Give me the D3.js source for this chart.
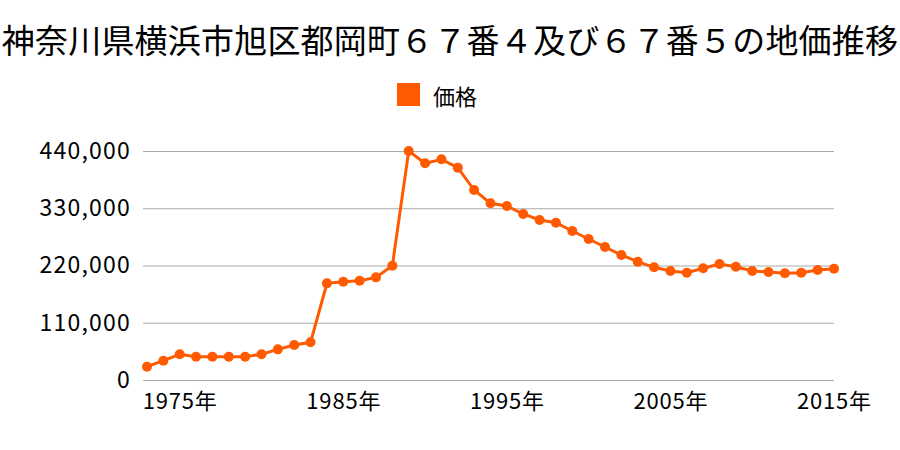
<!DOCTYPE html>
<html><head><meta charset="utf-8">
<script src="https://cdn.jsdelivr.net/npm/d3@7"></script>
<style>body{margin:0;background:#fff;} text{font-family:"Noto Sans CJK JP","Noto Sans",sans-serif;}</style>
</head><body>
<svg id="c" width="900" height="450"></svg>
<script>
const title = "神奈川県横浜市旭区都岡町６７番４及び６７番５の地価推移";
const seriesName = "価格";
const years = d3.range(1973, 2016);
const prices = [25600, 37100, 49400, 44800, 44800, 44800, 44800, 49400, 58900, 67200, 72400,
  185700, 188900, 190800, 197200, 219600, 440000, 416300, 424000, 408000, 365000, 339500,
  334300, 319000, 307400, 302300, 286300, 270900, 255500, 240200, 227300, 216500, 209400,
  206200, 214600, 222900, 217700, 209400, 207500, 205000, 206200, 211300, 213900];
const yTicks = [0, 110000, 220000, 330000, 440000];
const xTickYears = [1975, 1985, 1995, 2005, 2015];
const color = "#ff5a00";

const svg = d3.select("#c");
const m = {l:147, r:834, t:151, b:380};
const x = d3.scaleLinear().domain([1973, 2015]).range([m.l, m.r]);
const y = d3.scaleLinear().domain([0, 440000]).range([m.b, m.t]);

svg.append("text").attr("x", 450).attr("y", 53).attr("text-anchor","middle")
  .attr("font-size", 33).attr("letter-spacing", 0.2).attr("fill","#000").text(title);

svg.append("rect").attr("x",397).attr("y",83).attr("width",23).attr("height",23).attr("fill",color);
svg.append("text").attr("x",433).attr("y",95).attr("dominant-baseline","central")
  .attr("font-size",22).attr("fill","#000").text(seriesName);

const yAxis = d3.axisLeft(y).tickValues(yTicks).tickSize(m.r - m.l + 4).tickFormat(d3.format(","));
const gy = svg.append("g").attr("transform", `translate(${m.r},0)`).call(yAxis);
gy.select(".domain").remove();
gy.selectAll(".tick line").attr("stroke","#aaa").attr("stroke-width",1);
gy.selectAll(".tick text").attr("x", -(m.r - m.l) - 16).attr("font-size",23).attr("letter-spacing",1.2)
  .attr("fill","#000").attr("font-family",'"Noto Sans CJK JP",sans-serif');

const xAxis = d3.axisBottom(x).tickValues(xTickYears).tickSize(0).tickFormat(d => d + "年");
const gx = svg.append("g").attr("transform", `translate(0,${m.b})`).call(xAxis);
gx.select(".domain").remove();
gx.selectAll(".tick text").attr("y", 13).attr("dy","0.71em").attr("font-size",22).attr("letter-spacing",0.8)
  .attr("fill","#000").attr("font-family",'"Noto Sans CJK JP",sans-serif');

const data = years.map((yr,i)=>({yr, v:prices[i]}));
svg.append("path").datum(data).attr("fill","none").attr("stroke",color).attr("stroke-width",3)
  .attr("d", d3.line().x(d=>x(d.yr)).y(d=>y(d.v)));
svg.selectAll("circle.pt").data(data).enter().append("circle").attr("class","pt")
  .attr("cx",d=>x(d.yr)).attr("cy",d=>y(d.v)).attr("r",5).attr("fill",color);
</script>
</body></html>
